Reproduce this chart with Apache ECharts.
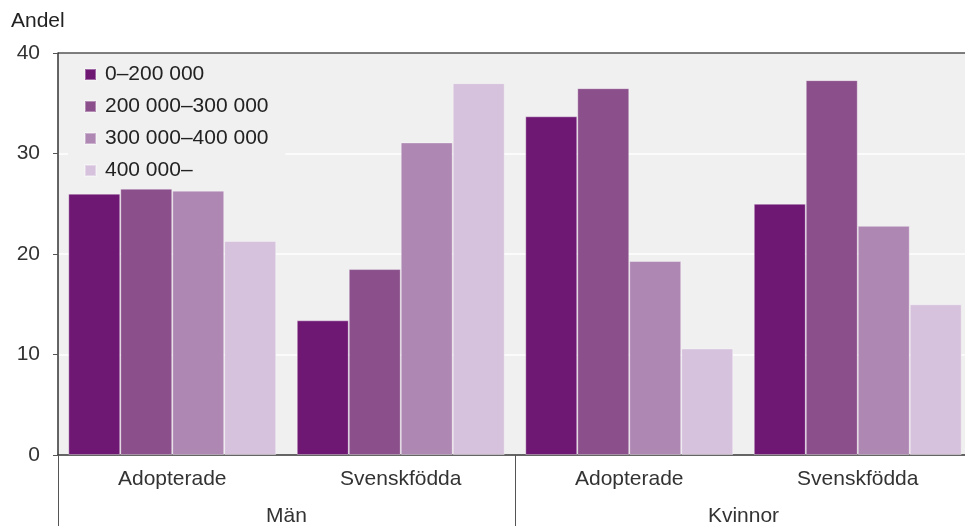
<!DOCTYPE html>
<html>
<head>
<meta charset="utf-8">
<script src="https://cdn.jsdelivr.net/npm/echarts@6/dist/echarts.min.js"></script>
<style>html,body{margin:0;padding:0;background:#fff}#c{width:965px;height:526px}</style>
</head>
<body>
<div id="c"></div>
<script>
const categories = ['Adopterade', 'Svenskfödda', 'Adopterade', 'Svenskfödda'];
const groups = ['Män', 'Kvinnor'];
const seriesNames = ['0–200 000', '200 000–300 000', '300 000–400 000', '400 000–'];
const s1 = [26.0, 13.4, 33.7, 25.0];
const s2 = [26.5, 18.5, 36.5, 37.3];
const s3 = [26.3, 31.1, 19.3, 22.8];
const s4 = [21.3, 37.0, 10.6, 15.0];
const yTicks = [0, 10, 20, 30, 40];

const colors = ['#6e1874', '#8b508c', '#ae87b3', '#d6c2dc'];
const FONT = 'Liberation Sans, Arial, sans-serif';
const chart = echarts.init(document.getElementById('c'), null, {renderer: 'canvas'});
const data = [s1, s2, s3, s4];
chart.setOption({
  animation: false,
  backgroundColor: '#ffffff',
  title: {text: 'Andel', left: 6, top: 6, textStyle: {fontFamily: FONT, fontSize: 21, fontWeight: 'normal', color: '#222'}},
  legend: {
    orient: 'vertical', left: 68, top: 56,
    backgroundColor: '#f0f0f0',
    padding: [8, 17, 8, 16],
    itemWidth: 11, itemHeight: 11, itemGap: 11,
    icon: 'rect',
    textStyle: {fontFamily: FONT, fontSize: 21, color: '#222', lineHeight: 20.5, padding: [0, 0, 0, 4]},
    data: seriesNames
  },
  grid: {left: 58, top: 53, width: 914, bottom: 71, show: true, backgroundColor: '#f0f0f0', borderWidth: 0,
         containLabel: false, outerBoundsMode: 'none'},
  xAxis: [
    {
      type: 'category', data: categories, position: 'bottom',
      axisLine: {show: true, lineStyle: {color: '#333', width: 1.5}},
      axisTick: {show: false},
      axisLabel: {fontFamily: FONT, fontSize: 21, color: '#333', margin: 14}
    },
    {
      type: 'category', data: groups, position: 'bottom',
      axisLine: {show: false},
      axisTick: {show: true, length: 75, lineStyle: {color: '#555', width: 1}},
      axisLabel: {fontFamily: FONT, fontSize: 21, color: '#333', margin: 51}
    }
  ],
  yAxis: {
    type: 'value', min: yTicks[0], max: yTicks[yTicks.length - 1], interval: 10,
    axisLine: {show: true, lineStyle: {color: '#333', width: 1.5}},
    axisTick: {show: true, length: 5, lineStyle: {color: '#555'}},
    axisLabel: {fontFamily: FONT, fontSize: 21, color: '#333', margin: 18},
    splitLine: {show: true, lineStyle: {color: ['#fff', '#fff', '#fff', '#fff', '#555'], width: 1.5}}
  },
  series: seriesNames.map((n, i) => ({
    name: n, type: 'bar', xAxisIndex: 0, data: data[i],
    barGap: '0%', barCategoryGap: '9%',
    itemStyle: {color: colors[i], borderColor: 'rgba(255,255,255,0.35)', borderWidth: 1}
  }))
});
</script>
</body>
</html>
